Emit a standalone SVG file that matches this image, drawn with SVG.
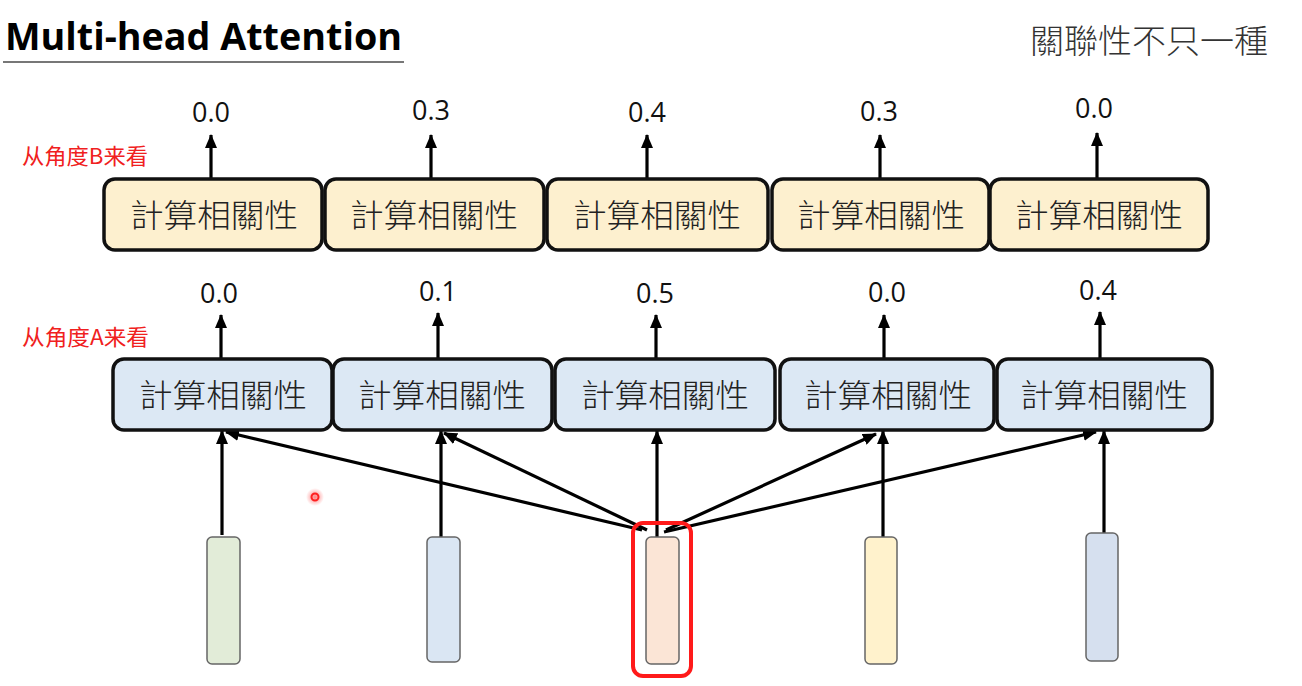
<svg xmlns="http://www.w3.org/2000/svg" width="1302" height="686" viewBox="0 0 1302 686">
<defs>
<style>
.boxB{fill:#fdf0cf;stroke:#111;stroke-width:3.5}
.boxA{fill:#dce8f4;stroke:#111;stroke-width:3.5}
.lbl{font-family:"Noto Sans CJK TC","Noto Sans CJK SC",sans-serif;font-size:32px;font-weight:300;fill:#222;text-anchor:middle}
.num{font-family:"Open Sans","Liberation Sans",sans-serif;font-size:27px;fill:#111;text-anchor:middle}
.red{font-family:"Noto Sans CJK SC","Liberation Sans",sans-serif;font-size:22px;fill:#f02020}
.vec{stroke:#666;stroke-width:1.5}
.arr{stroke:#000;stroke-width:3.2;fill:none;marker-end:url(#ah)}
</style>
<marker id="ah" markerUnits="userSpaceOnUse" markerWidth="14" markerHeight="12" refX="13" refY="6" orient="auto">
<path d="M0,0 L14,6 L0,12 z" fill="#000"/>
</marker>
<radialGradient id="glow">
<stop offset="0" stop-color="#ff3030" stop-opacity="0.6"/>
<stop offset="1" stop-color="#ff3030" stop-opacity="0"/>
</radialGradient>
</defs>
<rect width="1302" height="686" fill="#fff"/>

<g id="title">
<text x="5" y="50" font-family="Open Sans,Lato,sans-serif" font-weight="bold" font-size="38" fill="#000" textLength="397" lengthAdjust="spacingAndGlyphs">Multi-head Attention</text>
<line x1="3" y1="62" x2="404" y2="62" stroke="#777" stroke-width="2"/>
</g>
<g id="subtitle">
<text x="1030" y="53" font-family="Noto Sans CJK TC,sans-serif" font-weight="300" font-size="33" fill="#333" textLength="238" lengthAdjust="spacingAndGlyphs">關聯性不只一種</text>
</g>

<g id="labelB"><text class="red" x="22" y="164" textLength="126" lengthAdjust="spacingAndGlyphs">从角度B来看</text></g>
<g id="labelA"><text class="red" x="22" y="345" textLength="127" lengthAdjust="spacingAndGlyphs">从角度A来看</text></g>

<g id="connectors">
<line class="arr" x1="211" y1="179" x2="211" y2="135"/>
<line class="arr" x1="431" y1="179" x2="431" y2="135"/>
<line class="arr" x1="647" y1="179" x2="647" y2="135"/>
<line class="arr" x1="880" y1="179" x2="880" y2="135"/>
<line class="arr" x1="1097" y1="179" x2="1097" y2="133"/>

<line class="arr" x1="221" y1="359" x2="221" y2="315"/>
<line class="arr" x1="438" y1="359" x2="438" y2="313"/>
<line class="arr" x1="656" y1="359" x2="656" y2="315"/>
<line class="arr" x1="884" y1="359" x2="884" y2="315"/>
<line class="arr" x1="1100" y1="359" x2="1100" y2="312"/>

<line class="arr" x1="222" y1="535" x2="222" y2="431"/>
<line class="arr" x1="441" y1="537" x2="441" y2="431"/>
<line class="arr" x1="657" y1="537" x2="657" y2="431"/>
<line class="arr" x1="883" y1="537" x2="883" y2="431"/>
<line class="arr" x1="1104" y1="533" x2="1104" y2="431"/>

<line class="arr" x1="642" y1="530" x2="226" y2="432"/>
<line class="arr" x1="647" y1="530" x2="444" y2="433"/>
<line class="arr" x1="666" y1="530" x2="876" y2="434"/>
<line class="arr" x1="664" y1="532" x2="1096" y2="432"/>
</g>

<g id="B1"><rect class="boxB" x="104" y="179" width="218" height="71" rx="11"/><text class="lbl" x="214" y="227" textLength="168" lengthAdjust="spacingAndGlyphs">計算相關性</text><text class="num" x="211" y="122">0.0</text></g>
<g id="B2"><rect class="boxB" x="325" y="179" width="219" height="71" rx="11"/><text class="lbl" x="434" y="227" textLength="168" lengthAdjust="spacingAndGlyphs">計算相關性</text><text class="num" x="431" y="120">0.3</text></g>
<g id="B3"><rect class="boxB" x="547" y="179" width="221" height="71" rx="11"/><text class="lbl" x="657" y="227" textLength="168" lengthAdjust="spacingAndGlyphs">計算相關性</text><text class="num" x="647" y="122">0.4</text></g>
<g id="B4"><rect class="boxB" x="772" y="179" width="217" height="71" rx="11"/><text class="lbl" x="881" y="227" textLength="168" lengthAdjust="spacingAndGlyphs">計算相關性</text><text class="num" x="879" y="121">0.3</text></g>
<g id="B5"><rect class="boxB" x="990" y="179" width="218" height="71" rx="11"/><text class="lbl" x="1099" y="227" textLength="168" lengthAdjust="spacingAndGlyphs">計算相關性</text><text class="num" x="1094" y="118">0.0</text></g>

<g id="A1"><rect class="boxA" x="113" y="359" width="219" height="71" rx="11"/><text class="lbl" x="223" y="407" textLength="168" lengthAdjust="spacingAndGlyphs">計算相關性</text><text class="num" x="219" y="303">0.0</text></g>
<g id="A2"><rect class="boxA" x="333" y="359" width="219" height="71" rx="11"/><text class="lbl" x="442" y="407" textLength="168" lengthAdjust="spacingAndGlyphs">計算相關性</text><text class="num" x="438" y="301">0.1</text></g>
<g id="A3"><rect class="boxA" x="555" y="359" width="220" height="71" rx="11"/><text class="lbl" x="665" y="407" textLength="168" lengthAdjust="spacingAndGlyphs">計算相關性</text><text class="num" x="655" y="303">0.5</text></g>
<g id="A4"><rect class="boxA" x="780" y="359" width="214" height="71" rx="11"/><text class="lbl" x="888" y="407" textLength="168" lengthAdjust="spacingAndGlyphs">計算相關性</text><text class="num" x="887" y="302">0.0</text></g>
<g id="A5"><rect class="boxA" x="997" y="359" width="215" height="71" rx="11"/><text class="lbl" x="1104" y="407" textLength="168" lengthAdjust="spacingAndGlyphs">計算相關性</text><text class="num" x="1098" y="300">0.4</text></g>

<g id="v1"><rect class="vec" x="207" y="537" width="33" height="127" rx="5" fill="#e2ecd8"/></g>
<g id="v2"><rect class="vec" x="427" y="537" width="33" height="125" rx="5" fill="#dae6f3"/></g>
<g id="v3"><rect class="vec" x="646" y="537" width="33" height="127" rx="5" fill="#fbe5d6"/>
<rect x="633" y="523" width="58" height="153" rx="10" fill="none" stroke="#ff1a1a" stroke-width="4"/></g>
<g id="v4"><rect class="vec" x="865" y="537" width="32" height="127" rx="5" fill="#fff2cc"/></g>
<g id="v5"><rect class="vec" x="1086" y="533" width="32" height="128" rx="5" fill="#d6e0ef"/></g>

<g id="pointer">
<circle cx="315" cy="497" r="9" fill="url(#glow)"/>
<circle cx="315" cy="497" r="3.5" fill="none" stroke="#ff2020" stroke-width="2"/>
</g>
</svg>
